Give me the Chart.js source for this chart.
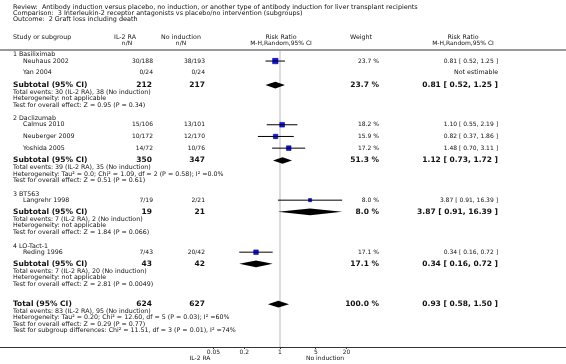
<!DOCTYPE html>
<html>
<head>
<meta charset="utf-8">
<script src="https://cdn.jsdelivr.net/npm/chart.js@4.4.1/dist/chart.umd.min.js"></script>
<style>
  html, body { margin: 0; padding: 0; background: #fff; }
  #forest { display: block; }
</style>
</head>
<body>
<canvas id="forest" width="566" height="364"></canvas>
<script>
// ---- data ----
const studies   = ['Neuhaus 2002', 'Yan 2004', 'Calmus 2010', 'Neuberger 2009', 'Yoshida 2005', 'Langrehr 1998', 'Reding 1996'];
const il2Events = [30, 0, 15, 10, 14, 7, 7];
const il2Total  = [188, 24, 106, 172, 72, 19, 43];
const noEvents  = [38, 0, 13, 12, 10, 2, 20];
const noTotal   = [193, 24, 101, 170, 76, 21, 42];
const rr        = [0.81, null, 1.10, 0.82, 1.48, 3.87, 0.34];
const rrLow     = [0.52, null, 0.55, 0.37, 0.70, 0.91, 0.16];
const rrHigh    = [1.25, null, 2.19, 1.86, 3.11, 16.39, 0.72];
const weights   = [23.7, null, 18.2, 15.9, 17.2, 8.0, 17.1];

const groups      = ['1 Basiliximab', '2 Daclizumab', '3 BT563', '4 LO-Tact-1'];
const subIl2N     = [212, 350, 19, 43];
const subNoN      = [217, 347, 21, 42];
const subIl2Ev    = [30, 39, 7, 7];
const subNoEv     = [38, 35, 2, 20];
const subRR       = [0.81, 1.12, 3.87, 0.34];
const subLow      = [0.52, 0.73, 0.91, 0.16];
const subHigh     = [1.25, 1.72, 16.39, 0.72];
const subWeight   = [23.7, 51.3, 8.0, 17.1];
const subHet      = ['not applicable', 'Tau\u00b2 = 0.0; Chi\u00b2 = 1.09, df = 2 (P = 0.58); I\u00b2 =0.0%', 'not applicable', 'not applicable'];
const subEffect   = ['Z = 0.95 (P = 0.34)', 'Z = 0.51 (P = 0.61)', 'Z = 1.84 (P = 0.066)', 'Z = 2.81 (P = 0.0049)'];

const totalN      = [624, 627];
const totalEv     = [83, 95];
const totalRR     = [0.93, 0.58, 1.50];
const totalWeight = 100.0;
const totalHet    = 'Tau\u00b2 = 0.20; Chi\u00b2 = 12.60, df = 5 (P = 0.03); I\u00b2 =60%';
const totalEffect = 'Z = 0.29 (P = 0.77)';
const subgroupDiff = 'Chi\u00b2 = 11.51, df = 3 (P = 0.01), I\u00b2 =74%';

const xTicks = [0.05, 0.2, 1, 5, 20];

// ---- layout (row positions in text lines below the header rule) ----
const studyRow    = [1.7, 3.4, 11.5, 13.3, 15.1, 23.1, 31.1];
const groupRow    = [0.6, 10.5, 22.15, 30.15];
const subtotalRow = [5.4, 17.0, 24.9, 32.9];
const totalRow    = 39.1;
const col = { name: 13, study: 23, il2: 153, no: 205, il2Head: 125, noHead: 181, rrHead: 281, wHead: 361, w: 379, rr2Head: 463, rr2: 498 };

const FONT = '"DejaVu Sans", Verdana, sans-serif';
const fTitle = '6.45px ' + FONT;
const fSmall = '6.3px ' + FONT;
const fNum = '6px ' + FONT;
const fBold = 'bold 7.5px ' + FONT;

const fmt = v => v.toFixed(2);
const ci = (m, l, h) => fmt(m) + ' [ ' + fmt(l) + ', ' + fmt(h) + ' ]';

const whiskers = studies.map((s, i) => rr[i] === null ? null : {
  data: [{ x: rrLow[i], y: studyRow[i] }, { x: rrHigh[i], y: studyRow[i] }],
  showLine: true, borderColor: '#000', borderWidth: 1, pointRadius: 0
}).filter(d => d);

const squares = {
  data: studies.map((s, i) => rr[i] === null ? null : { x: rr[i], y: studyRow[i], w: weights[i] }).filter(d => d),
  pointStyle: 'rect',
  pointRadius: ctx => Math.sqrt(ctx.raw.w) * 0.78,
  backgroundColor: '#1414ec',
  borderColor: '#0000a0',
  borderWidth: 0.6
};

const forestText = {
  id: 'forestText',
  beforeDatasetsDraw(chart) {
    const { ctx, chartArea: a, scales: { x } } = chart;
    ctx.save();
    // header rule
    ctx.strokeStyle = '#9a9a9a';
    ctx.lineWidth = 2;
    ctx.beginPath(); ctx.moveTo(0, a.top); ctx.lineTo(566, a.top); ctx.stroke();
    // line of no effect
    const x1 = Math.round(x.getPixelForValue(1));
    ctx.strokeStyle = '#dcdcdc';
    ctx.beginPath(); ctx.moveTo(x1, a.top + 1); ctx.lineTo(x1, a.bottom); ctx.stroke();
    // axis rule across the page
    ctx.strokeStyle = '#333';
    ctx.lineWidth = 1;
    ctx.beginPath(); ctx.moveTo(0, a.bottom + 0.5); ctx.lineTo(566, a.bottom + 0.5); ctx.stroke();
    ctx.restore();
  },
  afterDatasetsDraw(chart) {
    const { ctx, scales: { x, y } } = chart;
    const diamond = (m, l, h, row) => {
      const py = y.getPixelForValue(row);
      ctx.beginPath();
      ctx.moveTo(x.getPixelForValue(l), py);
      ctx.lineTo(x.getPixelForValue(m), py - 3.3);
      ctx.lineTo(x.getPixelForValue(h), py);
      ctx.lineTo(x.getPixelForValue(m), py + 3.3);
      ctx.closePath();
      ctx.fill();
    };
    ctx.save();
    ctx.fillStyle = '#000';
    groups.forEach((g, i) => diamond(subRR[i], subLow[i], subHigh[i], subtotalRow[i]));
    diamond(totalRR[0], totalRR[1], totalRR[2], totalRow);
    ctx.restore();
  },
  afterDraw(chart) {
    const { ctx, scales: { y } } = chart;
    const t = (s, px, py, font, align) => {
      ctx.font = font; ctx.textAlign = align || 'left'; ctx.fillText(s, px, py);
    };
    const Y = r => y.getPixelForValue(r);
    ctx.save();
    ctx.fillStyle = '#111';
    ctx.textBaseline = 'middle';

    t('Review:  Antibody induction versus placebo, no induction, or another type of antibody induction for liver transplant recipients', col.name, 7, fTitle);
    t('Comparison:  3 Interleukin-2 receptor antagonists vs placebo/no intervention (subgroups)', col.name, 13, fTitle);
    t('Outcome:  2 Graft loss including death', col.name, 19.5, fTitle);

    t('Study or subgroup', col.name, 37.5, fSmall);
    t('IL-2 RA', col.il2Head, 37.5, fSmall, 'center');
    t('n/N', col.il2Head + 2, 43.5, fNum, 'center');
    t('No induction', col.noHead, 37.5, fSmall, 'center');
    t('n/N', col.noHead, 43.5, fNum, 'center');
    t('Risk Ratio', col.rrHead, 37.5, fSmall, 'center');
    t('M-H,Random,95% CI', col.rrHead, 43.5, fNum, 'center');
    t('Weight', col.wHead, 37.5, fSmall, 'center');
    t('Risk Ratio', col.rr2Head, 37.5, fSmall, 'center');
    t('M-H,Random,95% CI', col.rr2Head, 43.5, fNum, 'center');

    groups.forEach((g, i) => t(g, col.name, Y(groupRow[i]), fSmall));

    studies.forEach((s, i) => {
      const py = Y(studyRow[i]);
      t(s, col.study, py, fSmall);
      t(il2Events[i] + '/' + il2Total[i], col.il2, py, fNum, 'right');
      t(noEvents[i] + '/' + noTotal[i], col.no, py, fNum, 'right');
      if (rr[i] === null) {
        t('Not estimable', col.rr2, py, fSmall, 'right');
      } else {
        t(weights[i].toFixed(1) + ' %', col.w, py, fNum, 'right');
        t(ci(rr[i], rrLow[i], rrHigh[i]), col.rr2, py, fNum, 'right');
      }
    });

    groups.forEach((g, i) => {
      const r = subtotalRow[i];
      t('Subtotal (95% CI)', col.name, Y(r), fBold);
      t(String(subIl2N[i]), col.il2 - 1, Y(r), fBold, 'right');
      t(String(subNoN[i]), col.no, Y(r), fBold, 'right');
      t(subWeight[i].toFixed(1) + ' %', col.w, Y(r), fBold, 'right');
      t(ci(subRR[i], subLow[i], subHigh[i]), col.rr2, Y(r), fBold, 'right');
      t('Total events: ' + subIl2Ev[i] + ' (IL-2 RA), ' + subNoEv[i] + ' (No induction)', col.name, Y(r + 1.1), fSmall);
      t('Heterogeneity: ' + subHet[i], col.name, Y(r + 2.1), fSmall);
      t('Test for overall effect: ' + subEffect[i], col.name, Y(r + 3.1), fSmall);
    });

    t('Total (95% CI)', col.name, Y(totalRow), fBold);
    t(String(totalN[0]), col.il2 - 1, Y(totalRow), fBold, 'right');
    t(String(totalN[1]), col.no, Y(totalRow), fBold, 'right');
    t(totalWeight.toFixed(1) + ' %', col.w, Y(totalRow), fBold, 'right');
    t(ci(totalRR[0], totalRR[1], totalRR[2]), col.rr2, Y(totalRow), fBold, 'right');
    t('Total events: ' + totalEv[0] + ' (IL-2 RA), ' + totalEv[1] + ' (No induction)', col.name, Y(totalRow + 1.05), fSmall);
    t('Heterogeneity: ' + totalHet, col.name, Y(totalRow + 2.05), fSmall);
    t('Test for overall effect: ' + totalEffect, col.name, Y(totalRow + 3.05), fSmall);
    t('Test for subgroup differences: ' + subgroupDiff, col.name, Y(totalRow + 4.05), fSmall);

    t('IL-2 RA', 200, 358.5, fNum, 'center');
    t('No induction', 325, 358.5, fNum, 'center');
    ctx.restore();
  }
};

new Chart(document.getElementById('forest'), {
  type: 'scatter',
  data: { datasets: [...whiskers, squares] },
  options: {
    responsive: false,
    animation: false,
    events: [],
    layout: { padding: { left: 177.6, right: 183.6, top: 50, bottom: 0 } },
    plugins: { legend: { display: false }, tooltip: { enabled: false } },
    scales: {
      x: {
        type: 'logarithmic',
        min: 0.01,
        max: 100,
        afterFit: s => { s.height = 17; },
        afterBuildTicks: s => { s.ticks = xTicks.map(v => ({ value: v })); },
        border: { display: false },
        grid: { drawOnChartArea: false, drawTicks: true, tickLength: 2, color: '#333' },
        ticks: {
          autoSkip: false, maxRotation: 0, padding: 0, color: '#222',
          font: { family: FONT, size: 6 },
          callback: v => String(v)
        }
      },
      y: { type: 'linear', reverse: true, min: 0, max: 45.69, display: false }
    }
  },
  plugins: [forestText]
});
</script>
</body>
</html>
